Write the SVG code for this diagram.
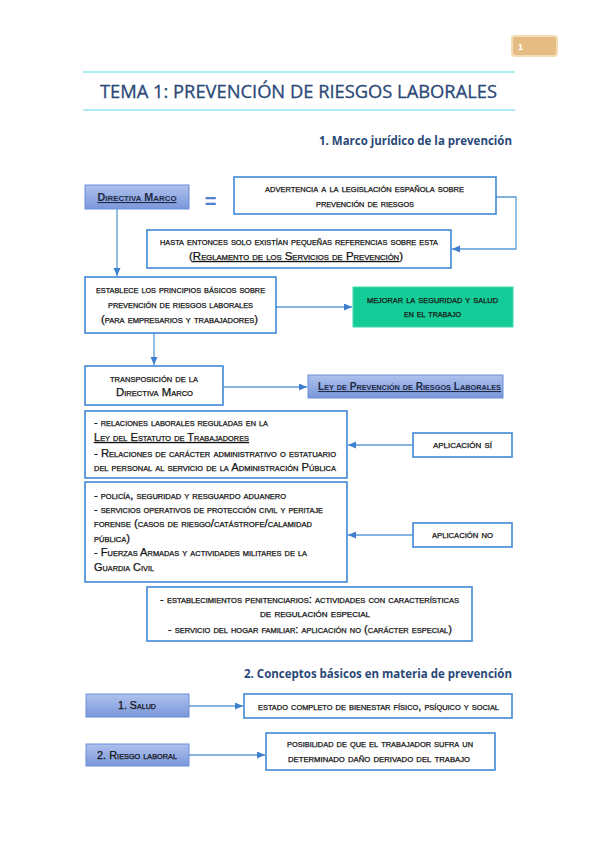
<svg xmlns="http://www.w3.org/2000/svg" width="599" height="848" viewBox="0 0 599 848">
<defs>
<linearGradient id="blueGrad" x1="0" y1="0" x2="0" y2="1">
<stop offset="0" stop-color="#AFC2EE"/>
<stop offset="1" stop-color="#7A97DA"/>
</linearGradient>
<marker id="arr" markerUnits="userSpaceOnUse" markerWidth="9" markerHeight="8" refX="8" refY="3.5" orient="auto">
<path d="M0,0 L8,3.5 L0,7 z" fill="#3F7FD0"/>
</marker>
<style>
.wbox{fill:#ffffff;stroke:#3F88D6;stroke-width:1.6}
.bbox{fill:url(#blueGrad);stroke:#6A8ED6;stroke-width:1}
.gbox{fill:#13CC97;stroke:#3ED9AC;stroke-width:1}
.t{font-family:"Liberation Sans","DejaVu Sans",sans-serif;font-size:10.5px;font-variant:small-caps;fill:#141414;stroke:#141414;stroke-width:0.25}
.tb{font-family:"Liberation Sans","DejaVu Sans",sans-serif;font-size:11px;font-variant:small-caps;font-weight:bold;fill:#1F2A44}
.c{text-anchor:middle}
.u{text-decoration:underline}
.conn{fill:none;stroke:#5B9BD5;stroke-width:1.3;marker-end:url(#arr)}
.head{font-family:"Open Sans","Liberation Sans",sans-serif;fill:#2A4878}
</style>
</defs>

<g id="header">
<rect x="512" y="36" width="45" height="20" rx="3" fill="#E5BD84" stroke="#F3DCB6" stroke-width="2"/>
<text x="518" y="50" font-family="Liberation Sans,sans-serif" font-size="9" font-weight="bold" fill="#ffffff">1</text>
<line x1="83" y1="72" x2="515" y2="72" stroke="#93E4EE" stroke-width="1.6"/>
<line x1="83" y1="110" x2="515" y2="110" stroke="#93E4EE" stroke-width="1.6"/>
<text class="head" x="100" y="98" font-size="18" stroke="#2A4878" stroke-width="0.3" textLength="397" lengthAdjust="spacingAndGlyphs">TEMA 1: PREVENCIÓN DE RIESGOS LABORALES</text>
<text class="head" x="512" y="145" font-size="13" font-weight="bold" text-anchor="end" textLength="193" lengthAdjust="spacingAndGlyphs">1. Marco jurídico de la prevención</text>
<text class="head" x="512" y="678" font-size="13" font-weight="bold" text-anchor="end" textLength="268" lengthAdjust="spacingAndGlyphs">2. Conceptos básicos en materia de prevención</text>
</g>

<g id="connectors">
<path class="conn" d="M117,209 V276"/>
<path class="conn" d="M496,197 H516 V249 H452"/>
<path class="conn" d="M276,307 H352"/>
<path class="conn" d="M154,333 V365"/>
<path class="conn" d="M223,387 H307"/>
<path class="conn" d="M413,445 H348"/>
<path class="conn" d="M413,535 H348"/>
<path class="conn" d="M189,706 H243"/>
<path class="conn" d="M189,755 H265"/>
</g>

<g id="directiva-marco">
<rect class="bbox" x="85" y="185" width="104" height="24"/>
<text class="tb c u" x="137" y="201" textLength="79" lengthAdjust="spacingAndGlyphs">Directiva Marco</text>
</g>

<g id="equals">
<text x="210.5" y="208" font-family="Liberation Sans,sans-serif" font-size="20" font-weight="bold" fill="#4F81D0" text-anchor="middle">=</text>
</g>

<g id="advertencia">
<rect class="wbox" x="234" y="177" width="262" height="37"/>
<text class="t c" x="364.5" y="192" textLength="199" lengthAdjust="spacingAndGlyphs">advertencia a la legislación española sobre</text>
<text class="t c" x="365" y="207" textLength="98" lengthAdjust="spacingAndGlyphs">prevención de riesgos</text>
</g>

<g id="hasta-entonces">
<rect class="wbox" x="147" y="230" width="304" height="38"/>
<text class="t c" x="299" y="245" textLength="278" lengthAdjust="spacingAndGlyphs">hasta entonces solo existían pequeñas referencias sobre esta</text>
<text class="t c" x="296" y="260" textLength="214" lengthAdjust="spacingAndGlyphs">(<tspan class="u">Reglamento de los Servicios de Prevención</tspan>)</text>
</g>

<g id="establece">
<rect class="wbox" x="85" y="277" width="191" height="56"/>
<text class="t c" x="180.5" y="293" textLength="169" lengthAdjust="spacingAndGlyphs">establece los principios básicos sobre</text>
<text class="t c" x="180.5" y="308" textLength="145" lengthAdjust="spacingAndGlyphs">prevención de riesgos laborales</text>
<text class="t c" x="179.5" y="323" textLength="157" lengthAdjust="spacingAndGlyphs">(para empresarios y trabajadores)</text>
</g>

<g id="mejorar">
<rect class="gbox" x="353" y="287" width="160" height="40"/>
<text class="t c" x="432.5" y="303" textLength="131" lengthAdjust="spacingAndGlyphs">mejorar la seguridad y salud</text>
<text class="t c" x="432.5" y="317" textLength="57" lengthAdjust="spacingAndGlyphs">en el trabajo</text>
</g>

<g id="transposicion">
<rect class="wbox" x="85" y="366" width="138" height="39"/>
<text class="t c" x="154" y="382" textLength="88" lengthAdjust="spacingAndGlyphs">transposición de la</text>
<text class="t c" x="154.5" y="396" textLength="77" lengthAdjust="spacingAndGlyphs">Directiva Marco</text>
</g>

<g id="ley-prl">
<rect class="bbox" x="308" y="375" width="195" height="23"/>
<text class="tb c u" x="409.5" y="390" textLength="183" lengthAdjust="spacingAndGlyphs">Ley de Prevención de Riesgos Laborales</text>
</g>

<g id="aplicacion-si-box">
<rect class="wbox" x="85" y="411" width="262" height="67"/>
<text class="t" x="94" y="426" textLength="174" lengthAdjust="spacingAndGlyphs">- relaciones laborales reguladas en la</text>
<text class="t u" x="94" y="441" textLength="155" lengthAdjust="spacingAndGlyphs">Ley del Estatuto de Trabajadores</text>
<text class="t" x="94" y="457" textLength="242" lengthAdjust="spacingAndGlyphs">- Relaciones de carácter administrativo o estatuario</text>
<text class="t" x="94" y="471" textLength="242" lengthAdjust="spacingAndGlyphs">del personal al servicio de la Administración Pública</text>
</g>

<g id="aplicacion-no-box">
<rect class="wbox" x="85" y="482" width="262" height="100"/>
<text class="t" x="94" y="499" textLength="192" lengthAdjust="spacingAndGlyphs">- policía, seguridad y resguardo aduanero</text>
<text class="t" x="94" y="513" textLength="229" lengthAdjust="spacingAndGlyphs">- servicios operativos de protección civil y peritaje</text>
<text class="t" x="94" y="527" textLength="218" lengthAdjust="spacingAndGlyphs">forense (casos de riesgo/catástrofe/calamidad</text>
<text class="t" x="94" y="542" textLength="36" lengthAdjust="spacingAndGlyphs">pública)</text>
<text class="t" x="94" y="556" textLength="213" lengthAdjust="spacingAndGlyphs">- Fuerzas Armadas y actividades militares de la</text>
<text class="t" x="94" y="571" textLength="60" lengthAdjust="spacingAndGlyphs">Guardia Civil</text>
</g>

<g id="aplicacion-si">
<rect class="wbox" x="413" y="433" width="99" height="24"/>
<text class="t c" x="462.5" y="448" textLength="59" lengthAdjust="spacingAndGlyphs">aplicación sí</text>
</g>

<g id="aplicacion-no">
<rect class="wbox" x="413" y="523" width="99" height="24"/>
<text class="t c" x="462.5" y="538" textLength="61" lengthAdjust="spacingAndGlyphs">aplicación no</text>
</g>

<g id="especiales">
<rect class="wbox" x="147" y="587" width="325" height="54"/>
<text class="t c" x="309.5" y="603" textLength="299" lengthAdjust="spacingAndGlyphs">- establecimientos penitenciarios: actividades con características</text>
<text class="t c" x="315" y="617" textLength="110" lengthAdjust="spacingAndGlyphs">de regulación especial</text>
<text class="t c" x="310" y="633" textLength="284" lengthAdjust="spacingAndGlyphs">- servicio del hogar familiar: aplicación no (carácter especial)</text>
</g>

<g id="salud">
<rect class="bbox" x="86" y="694" width="103" height="23"/>
<text class="t c" x="137" y="709" font-size="11.5" textLength="38" lengthAdjust="spacingAndGlyphs">1. Salud</text>
</g>

<g id="salud-def">
<rect class="wbox" x="244" y="694" width="268" height="24"/>
<text class="t c" x="378.5" y="710" textLength="241" lengthAdjust="spacingAndGlyphs">estado completo de bienestar físico, psíquico y social</text>
</g>

<g id="riesgo-laboral">
<rect class="bbox" x="86" y="744" width="103" height="22"/>
<text class="t c" x="137" y="759" font-size="11.5" textLength="80" lengthAdjust="spacingAndGlyphs">2. Riesgo laboral</text>
</g>

<g id="riesgo-def">
<rect class="wbox" x="266" y="733" width="229" height="37"/>
<text class="t c" x="380" y="747" textLength="186" lengthAdjust="spacingAndGlyphs">posibilidad de que el trabajador sufra un</text>
<text class="t c" x="379" y="762" textLength="182" lengthAdjust="spacingAndGlyphs">determinado daño derivado del trabajo</text>
</g>
</svg>
